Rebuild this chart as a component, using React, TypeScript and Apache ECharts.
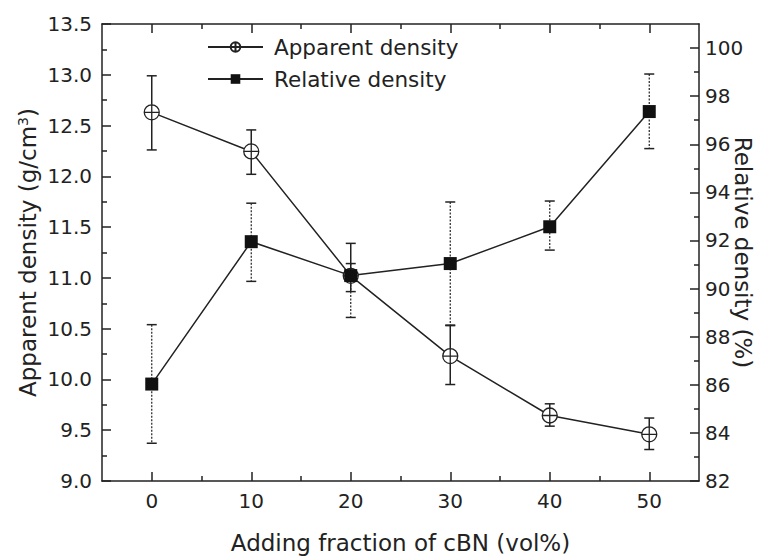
import React, { useEffect, useRef } from "react";
import * as echarts from "echarts";

const fractions = [0, 10, 20, 30, 40, 50];
const apparentDensity = [12.63, 12.245, 11.02, 10.23, 9.645, 9.46];
const apparentLow = [12.26, 12.02, 10.865, 9.95, 9.54, 9.31];
const apparentHigh = [12.99, 12.457, 11.34, 10.535, 9.76, 9.62];
const relativeDensity = [86.03, 91.95, 90.54, 91.04, 92.57, 97.36];
const relativeLow = [83.57, 90.3, 88.8, 88.46, 91.6, 95.82];
const relativeHigh = [88.5, 93.55, 91.04, 93.6, 93.64, 98.92];
const xMajorTicks = [0, 10, 20, 30, 40, 50];
const xMinorTicks = [5, 15, 25, 35, 45];
const rightMajorTicks = [82, 84, 86, 88, 90, 92, 94, 96, 98, 100];
const rightMinorTicks = [83, 85, 87, 89, 91, 93, 95, 97, 99];

const FONT = "DejaVu Sans";
const INK = "#222";

function errorBarRenderer(dashed: boolean) {
  return (params: any, api: any) => {
    const x = api.value(0);
    const lo = api.value(1);
    const hi = api.value(2);
    const p1 = api.coord([x, hi]);
    const p2 = api.coord([x, lo]);
    const w = 5;
    const lw = dashed ? 1.2 : 1.5;
    return {
      type: "group",
      children: [
        {
          type: "line",
          shape: { x1: p1[0], y1: p1[1], x2: p2[0], y2: p2[1] },
          style: { stroke: INK, lineWidth: lw, lineDash: dashed ? [2, 1.5] : null },
        },
        {
          type: "line",
          shape: { x1: p1[0] - w, y1: p1[1], x2: p1[0] + w, y2: p1[1] },
          style: { stroke: INK, lineWidth: 1.5 },
        },
        {
          type: "line",
          shape: { x1: p2[0] - w, y1: p2[1], x2: p2[0] + w, y2: p2[1] },
          style: { stroke: INK, lineWidth: 1.5 },
        },
      ],
    };
  };
}

export default function App() {
  const ref = useRef<HTMLDivElement>(null);
  useEffect(() => {
    document.body.style.margin = "0";
    const chart = echarts.init(ref.current!, null, { renderer: "svg" });
    const axisLine = { show: true, onZero: false, lineStyle: { color: INK, width: 1.5 } };
    const noLine = { show: false, onZero: false };
    const xBase = { type: "value", min: -5, max: 55, splitLine: { show: false } };
    const option: any = {
      animation: false,
      backgroundColor: "#fff",
      textStyle: { fontFamily: FONT },
      grid: { left: 102, right: 66, top: 24, bottom: 75, containLabel: false, outerBoundsMode: "none" },
      legend: {
        orient: "vertical",
        left: 207,
        top: 36,
        padding: 0,
        itemWidth: 55,
        itemHeight: 12,
        itemGap: 10,
        textStyle: { fontFamily: FONT, fontSize: 21.5, color: INK, padding: [0, 0, 0, 6] },
        data: ["Apparent density", "Relative density"],
      },
      xAxis: [
        {
          ...xBase,
          position: "bottom",
          axisLine,
          axisTick: { show: true, inside: true, length: 9, customValues: xMajorTicks, lineStyle: { color: INK, width: 1.5 } },
          axisLabel: { customValues: xMajorTicks, fontFamily: FONT, fontSize: 20, color: INK, margin: 10 },
          name: "Adding fraction of cBN (vol%)",
          nameLocation: "middle",
          nameGap: 50,
          nameMoveOverlap: false,
          nameTextStyle: { fontFamily: FONT, fontSize: 23, color: INK },
        },
        {
          ...xBase,
          position: "bottom",
          axisLine: noLine,
          axisTick: { show: true, inside: true, length: 5, customValues: xMinorTicks, lineStyle: { color: INK, width: 1.5 } },
          axisLabel: { show: false },
        },
        {
          ...xBase,
          position: "top",
          axisLine,
          axisTick: { show: true, inside: true, length: 9, customValues: xMajorTicks, lineStyle: { color: INK, width: 1.5 } },
          axisLabel: { show: false },
        },
        {
          ...xBase,
          position: "top",
          axisLine: noLine,
          axisTick: { show: true, inside: true, length: 5, customValues: xMinorTicks, lineStyle: { color: INK, width: 1.5 } },
          axisLabel: { show: false },
        },
      ],
      yAxis: [
        {
          type: "value",
          position: "left",
          min: 9,
          max: 13.5,
          interval: 0.5,
          splitLine: { show: false },
          axisLine,
          axisTick: { show: true, inside: true, length: 9, lineStyle: { color: INK, width: 1.5 } },
          minorTick: { show: true, splitNumber: 2, length: 5, lineStyle: { color: INK, width: 1.5 } },
          minorSplitLine: { show: false },
          axisLabel: {
            fontFamily: FONT,
            fontSize: 20,
            color: INK,
            margin: 10,
            formatter: (v: number) => v.toFixed(1),
          },
          name: "Apparent density (g/cm{sup|3})",
          nameLocation: "middle",
          nameRotate: 90,
          nameGap: 62,
          nameMoveOverlap: false,
          nameTextStyle: {
            fontFamily: FONT,
            fontSize: 23,
            color: INK,
            rich: { sup: { fontFamily: FONT, fontSize: 14, color: INK, padding: [0, 0, 10, 0] } },
          },
        },
        {
          type: "value",
          position: "right",
          min: 82,
          max: 101,
          splitLine: { show: false },
          axisLine,
          axisTick: { show: true, inside: true, length: 9, customValues: rightMajorTicks, lineStyle: { color: INK, width: 1.5 } },
          axisLabel: { customValues: rightMajorTicks, fontFamily: FONT, fontSize: 20, color: INK, margin: 6 },
          name: "Relative density (%)",
          nameLocation: "middle",
          nameRotate: -90,
          nameGap: 32,
          nameMoveOverlap: false,
          nameTextStyle: { fontFamily: FONT, fontSize: 23, color: INK },
        },
        {
          type: "value",
          position: "right",
          min: 82,
          max: 101,
          splitLine: { show: false },
          axisLine: noLine,
          axisTick: { show: true, inside: true, length: 5, customValues: rightMinorTicks, lineStyle: { color: INK, width: 1.5 } },
          axisLabel: { show: false },
        },
      ],
      series: [
        {
          type: "custom",
          name: "apparentErr",
          xAxisIndex: 0,
          yAxisIndex: 0,
          z: 1,
          renderItem: errorBarRenderer(false),
          encode: { x: 0, y: [1, 2] },
          data: fractions.map((f, i) => [f, apparentLow[i], apparentHigh[i]]),
          silent: true,
        },
        {
          type: "custom",
          name: "relativeErr",
          xAxisIndex: 0,
          yAxisIndex: 1,
          z: 1,
          renderItem: errorBarRenderer(true),
          encode: { x: 0, y: [1, 2] },
          data: fractions.map((f, i) => [f, relativeLow[i], relativeHigh[i]]),
          silent: true,
        },
        {
          type: "line",
          name: "Apparent density",
          xAxisIndex: 0,
          yAxisIndex: 0,
          z: 3,
          data: fractions.map((f, i) => [f, apparentDensity[i]]),
          symbol: "path://M10,0A10,10,0,1,1,10,20A10,10,0,1,1,10,0ZM0,10L20,10M10,0L10,20",
          symbolSize: 15,
          itemStyle: { color: "#fff", borderColor: INK, borderWidth: 1.3 },
          lineStyle: { color: INK, width: 1.5 },
        },
        {
          type: "line",
          name: "Relative density",
          xAxisIndex: 0,
          yAxisIndex: 1,
          z: 3,
          data: fractions.map((f, i) => [f, relativeDensity[i]]),
          symbol: "rect",
          symbolSize: 13,
          itemStyle: { color: "#111", borderColor: "#111", borderWidth: 0 },
          lineStyle: { color: INK, width: 1.5 },
        },
      ],
    };
    chart.setOption(option);
    return () => chart.dispose();
  }, []);
  return (
    <div
      ref={ref}
      style={{ position: "fixed", left: 0, top: 0, width: 765, height: 556, background: "#fff" }}
    />
  );
}
